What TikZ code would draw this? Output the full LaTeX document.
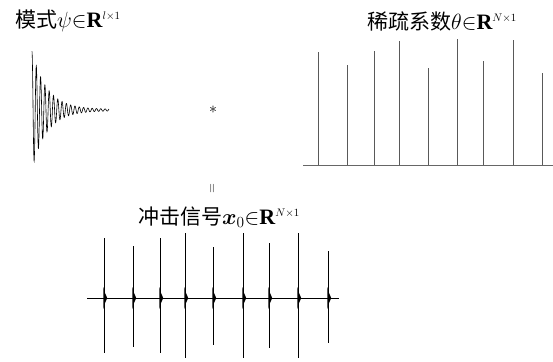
\RequirePackage{fix-cm}
\documentclass[tikz,border=0pt]{standalone}
\usepackage{amsmath}
\usepackage{bm}
\usepackage{fontspec}
\setmainfont{Liberation Serif}
\newfontfamily\cjk{Noto Sans CJK SC}
\newcommand\zhtxt[1]{{\fontsize{21}{25}\selectfont\cjk #1}}
\begin{document}
\begin{tikzpicture}[x=1pt,y=-1pt,
  lbl/.style={inner sep=0pt,anchor=west,font=\fontsize{22}{26}\selectfont},
  stem/.style={draw=black!65,line width=1pt},
  base/.style={draw=black!60,line width=0.8pt},
  pulse/.style={draw=black,line width=0.6pt}]
\useasboundingbox (0,0) rectangle (553,361);
% labels
\node[lbl] (t1) at (15,21) {\zhtxt{模式}$\psi{\in}\mathbf{R}^{\scriptscriptstyle l\times 1}$};
\node[lbl] (t2) at (367,21) {\zhtxt{稀疏系数}$\theta{\in}\mathbf{R}^{\scriptscriptstyle N\times 1}$};
\node[lbl] (t3) at (138,217) {\zhtxt{冲击信号}$\bm{x}_0{\in}\mathbf{R}^{\scriptscriptstyle N\times 1}$};
\node[inner sep=0pt,font=\fontsize{16}{18}\selectfont] (star) at (213,110) {$*$};
\node[inner sep=0pt,rotate=90,font=\fontsize{13}{15}\selectfont] (eq) at (213,189) {$=$};
% decaying mode
\draw[line width=0.6pt,black] plot[domain=0:77,samples=500]
  ({32+\x},{110-(58*exp(-\x/15)+0.7)*cos(\x*83.72)});
% sparse coefficients
\draw[base] (303,165) -- (553,165);
\foreach \xx/\yy in {318/52,347/65,374/51,399/41,428/68,457/39,483/61,513/40,542/73}{
  \draw[stem] (\xx,165) -- (\xx,\yy);
}
% impulse signal
\draw[black,line width=0.6pt] (87,298) -- (339,298);
\foreach \xx/\tp/\bt in {104/238/353,133/246/347,160/238/353,185/233/358,213/247/345,243/233/358,269/243/348,298/233/358,328/251/343}{
  \draw[pulse] (\xx,\tp) -- (\xx,\bt);
  \fill[black] (\xx-0.6,287) -- (\xx+0.6,292) -- (\xx+3.2,298) -- (\xx+0.6,304) -- (\xx-0.6,309) -- cycle;
}
\end{tikzpicture}
\end{document}
